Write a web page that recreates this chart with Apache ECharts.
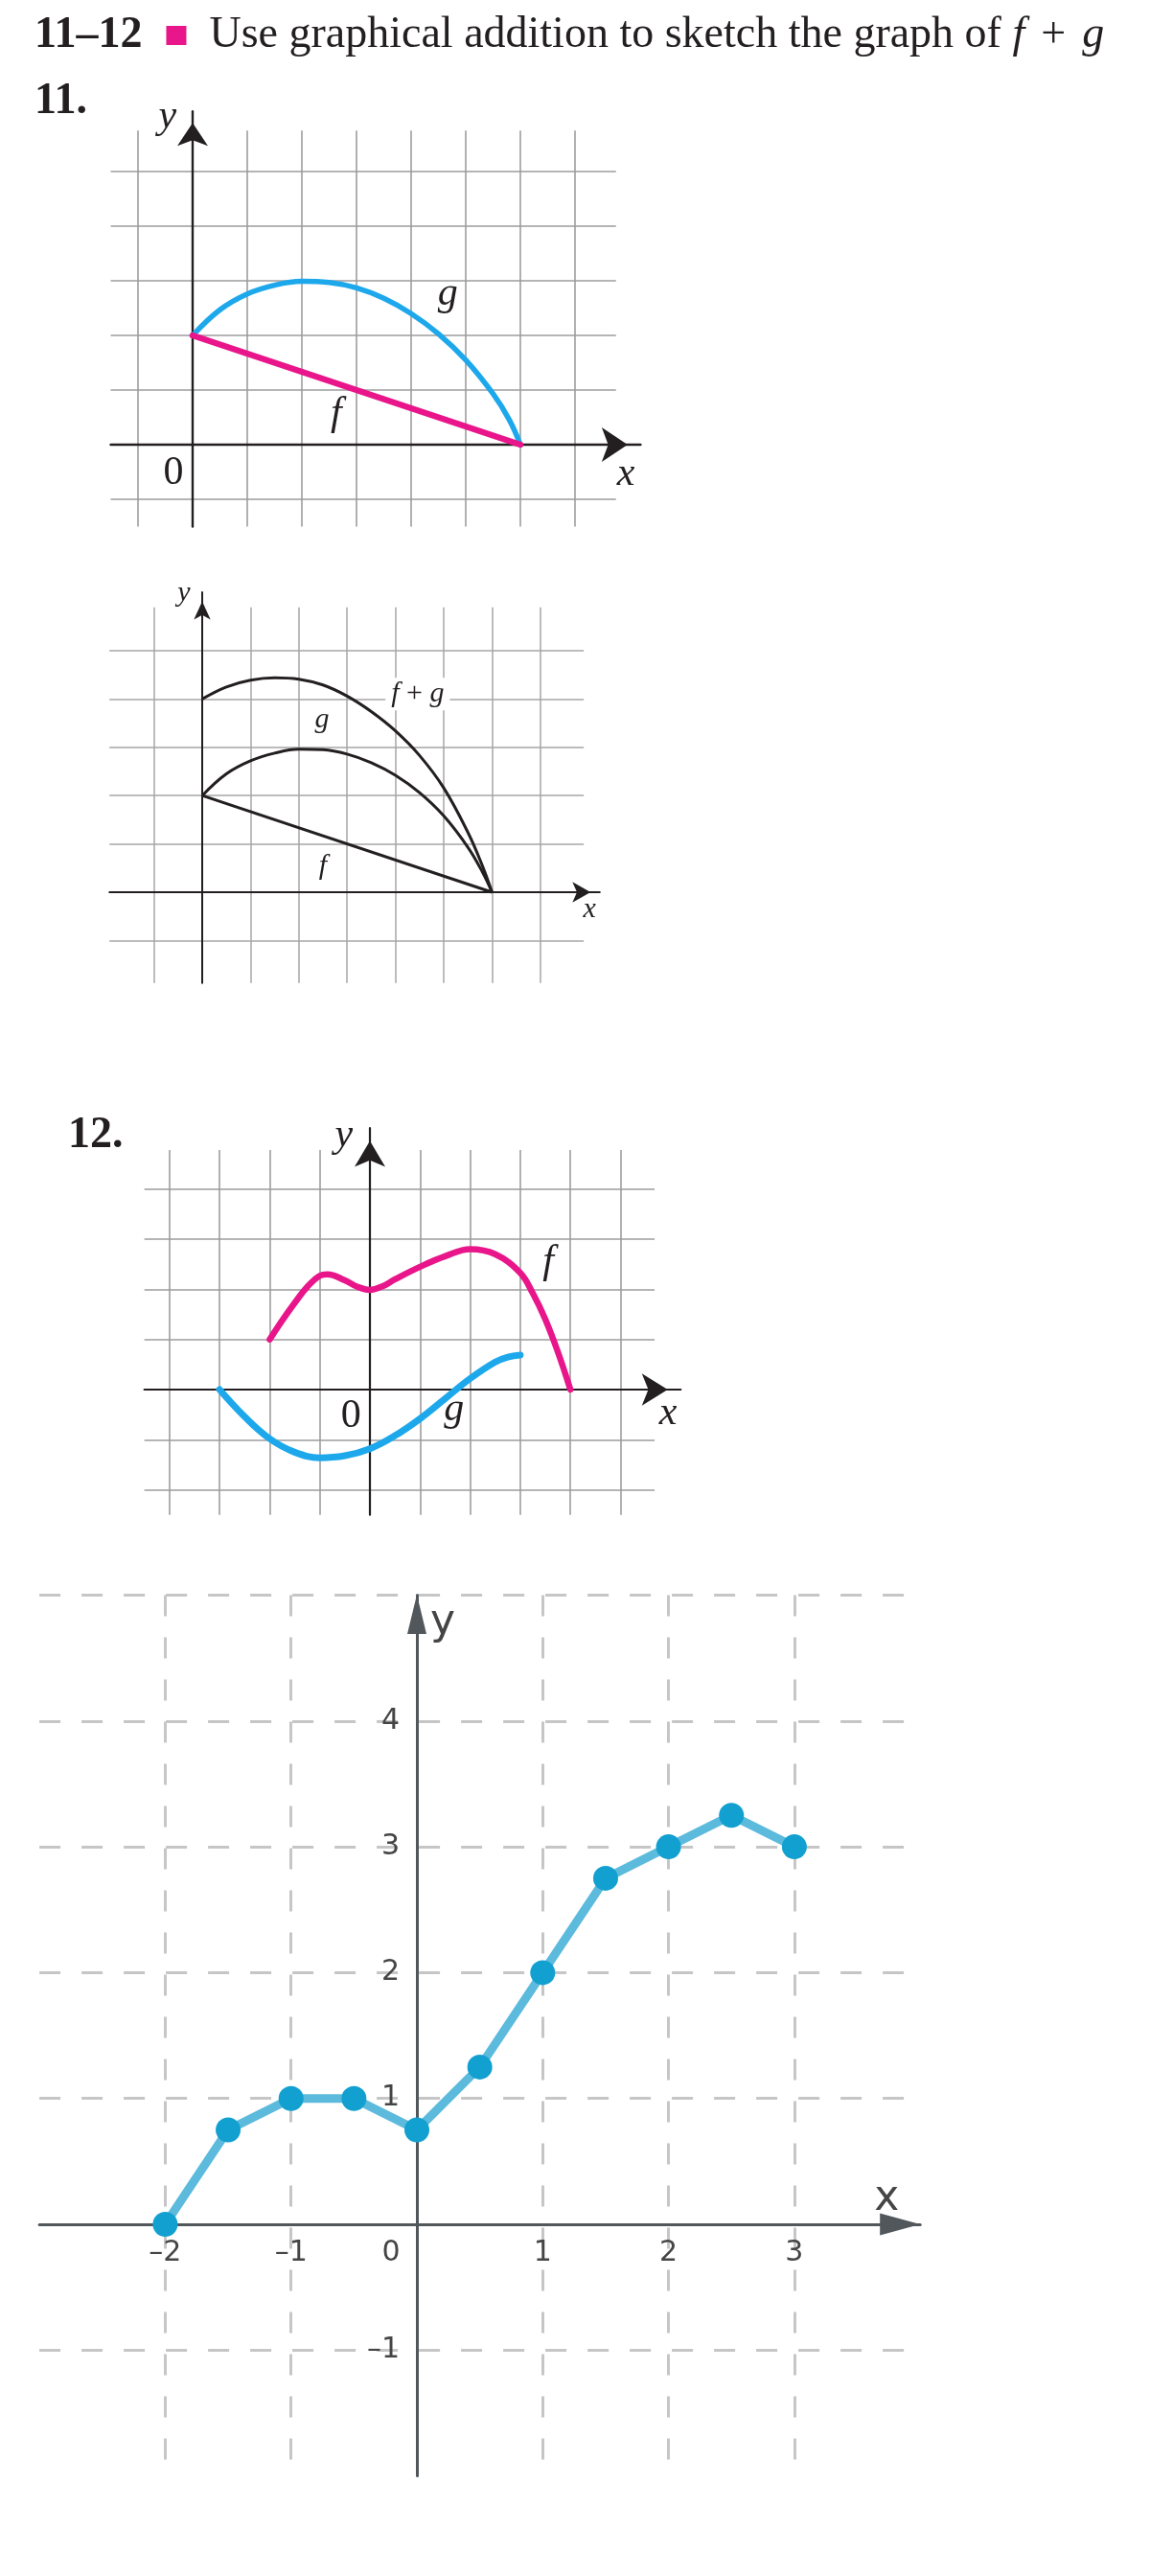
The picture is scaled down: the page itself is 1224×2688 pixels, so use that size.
<!DOCTYPE html>
<html lang="en">
<head>
<meta charset="UTF-8">
<title>Graphical addition f + g</title>
<style>
  * { margin: 0; padding: 0; }
  body { background: #fff; }
</style>
<script src="https://cdn.jsdelivr.net/npm/echarts@6/dist/echarts.min.js"></script>
</head>
<body>
<div id="main" style="width: 1224px; height: 2688px;"></div>
<script>
  const chart = echarts.init(document.getElementById('main'))

  // 11. given f (straight) and g (arch)
  const f11X = [0, 6]
  const f11Y = [2, 0]
  const g11X = [0, 0.5, 1, 1.5, 2, 2.5, 3, 3.5, 4, 4.5, 5, 5.5, 5.8, 6]
  const g11Y = [2, 2.47, 2.76, 2.92, 2.99, 2.97, 2.87, 2.68, 2.4, 2.03, 1.55, 0.93, 0.45, 0]

  // 11. worked answer (black)
  const ans11X = [0, 0.5, 1, 1.5, 2, 2.5, 3, 3.5, 4, 4.5, 5, 5.5, 5.8, 6]
  const ansG11Y = [2, 2.45, 2.72, 2.88, 2.96, 2.95, 2.86, 2.68, 2.42, 2.06, 1.58, 0.93, 0.42, 0]
  const ansSum11Y = [4, 4.25, 4.39, 4.44, 4.41, 4.29, 4.06, 3.74, 3.34, 2.83, 2.16, 1.24, 0.55, 0]

  // 12. given f and g
  const f12X = [-2, -1.75, -1.5, -1.25, -1, -0.85, -0.5, -0.25, 0, 0.25, 0.5, 1, 1.5, 2, 2.5, 3, 3.25, 3.5, 3.75, 4]
  const f12Y = [1, 1.38, 1.73, 2.05, 2.27, 2.3, 2.18, 2.05, 1.99, 2.06, 2.2, 2.45, 2.66, 2.8, 2.7, 2.33, 1.92, 1.4, 0.75, 0]
  const g12X = [-3, -2.5, -2, -1.5, -1, -0.5, 0, 0.5, 1, 1.5, 2, 2.5, 2.75, 3]
  const g12Y = [0, -0.54, -0.98, -1.25, -1.36, -1.32, -1.18, -0.92, -0.58, -0.18, 0.22, 0.55, 0.65, 0.69]

  // 12. answer f + g
  const sumX = [-2, -1.5, -1, -0.5, 0, 0.5, 1, 1.5, 2, 2.5, 3]
  const sumY = [0, 0.75, 1, 1, 0.75, 1.25, 2, 2.75, 3, 3.25, 3]

  // grid paper lines (axis lines at 0 are drawn by the axes)
  const cols11 = [-1, 1, 2, 3, 4, 5, 6, 7]
  const rows11 = [-1, 1, 2, 3, 4, 5]
  const cols12 = [-4, -3, -2, -1, 1, 2, 3, 4, 5]
  const rows12 = [-2, -1, 1, 2, 3, 4]

  // text labels: [text, x, y]
  const labels11 = [['g', 4.67, 2.76], ['f', 2.63, 0.56], ['0', -0.35, -0.53], ['y', -0.46, 6.0], ['x', 7.93, -0.55]]
  const labelsAns11 = [['f + g', 4.46, 4.1], ['g', 2.48, 3.56], ['f', 2.5, 0.54], ['y', -0.38, 6.18], ['x', 8.02, -0.36]]
  const labels12 = [['f', 3.56, 2.54], ['g', 1.68, -0.4], ['0', -0.38, -0.54], ['y', -0.52, 5.06], ['x', 5.95, -0.48]]

  const zip = (xs, ys) => xs.map((x, i) => [x, ys[i]])

  const INK = '#231f20'
  const PINK = '#e8168a'
  const CYAN = '#1ea8ec'
  const SERIF = 'Liberation Serif'
  const SANS = 'DejaVu Sans'

  // layout of each panel: origin in px, px per unit, axis extents, grid line spans
  const P = [
    { ox: 201, oy: 464, u: 57, x: [-1.5, 8.2], y: [-1.5, 6.1], hs: [-1.5, 7.75], vs: [-1.5, 5.75] },
    { ox: 211, oy: 931, u: 50.4, x: [-1.92, 8.23], y: [-1.88, 6.21], hs: [-1.92, 7.9], vs: [-1.88, 5.9] },
    { ox: 386, oy: 1450, u: 52.3, x: [-4.5, 6.2], y: [-2.5, 5.22], hs: [-4.5, 5.68], vs: [-2.5, 4.78] },
    { ox: 435, oy: 2321, u: 131.3, x: [-3, 4], y: [-2, 5] }
  ]

  const rect = p => ({
    left: p.ox + p.x[0] * p.u,
    top: p.oy - p.y[1] * p.u,
    width: (p.x[1] - p.x[0]) * p.u,
    height: (p.y[1] - p.y[0]) * p.u,
    outerBoundsMode: 'none'
  })

  function paperLines(p, cols, rows, color, width) {
    const data = []
    cols.forEach(c => data.push([{ coord: [c, p.vs[0]] }, { coord: [c, p.vs[1]] }]))
    rows.forEach(r => data.push([{ coord: [p.hs[0], r] }, { coord: [p.hs[1], r] }]))
    return {
      silent: true, z: 1, animation: false,
      symbol: ['none', 'none'],
      label: { show: false },
      lineStyle: { color, width, type: 'solid' },
      emphasis: { disabled: true },
      data
    }
  }

  function textMarks(list, size) {
    return {
      silent: true, animation: false,
      symbol: 'circle', symbolSize: 1,
      itemStyle: { color: 'rgba(0,0,0,0)' },
      label: {
        show: true, position: 'inside', formatter: '{b}',
        fontFamily: SERIF, fontStyle: 'italic', fontWeight: 'normal', fontSize: size, color: INK
      },
      data: list.map(([t, x, y]) => {
        const item = { name: t, coord: [x, y] }
        if (t === '0') item.label = { fontStyle: 'normal' }
        if (t === 'f + g') {
          item.label = {
            formatter: '{i|f} + {i|g}', fontStyle: 'normal',
            backgroundColor: '#fff', padding: [2, 6],
            rich: { i: { fontFamily: SERIF, fontStyle: 'italic', fontSize: size, color: INK } }
          }
        }
        return item
      })
    }
  }

  function bookAxes(i, p, ax, ay, width) {
    const base = {
      type: 'value', gridIndex: i, z: 2,
      axisTick: { show: false }, axisLabel: { show: false }, splitLine: { show: false }
    }
    return [
      Object.assign({}, base, {
        min: p.x[0], max: p.x[1],
        axisLine: { show: true, onZero: true, symbol: ['none', 'arrow'], symbolSize: ax, symbolOffset: [0, -ax[1] / 2], lineStyle: { color: INK, width } }
      }),
      Object.assign({}, base, {
        min: p.y[0], max: p.y[1],
        axisLine: { show: true, onZero: true, symbol: ['none', 'arrow'], symbolSize: ay, symbolOffset: [0, -ay[1] / 2], lineStyle: { color: INK, width } }
      })
    ]
  }

  const a11 = bookAxes(0, P[0], [27, 27], [24, 24], 2.4)
  const b11 = bookAxes(1, P[1], [16, 19], [13, 19], 2)
  const a12 = bookAxes(2, P[2], [25, 27], [24, 27], 2.2)

  // the answer graph carries its labels on the axes, so the axes are shifted in to x = 0 / y = 0
  const D = P[3]
  const shiftX = D.y[0] * D.u
  const shiftY = D.x[0] * D.u

  const minus = v => (v < 0 ? '–' + Math.abs(v) : String(v))
  const tickFont = { fontFamily: SANS, fontSize: 30, fontWeight: 'normal', color: '#454545' }
  const plain = { fontFamily: SERIF, fontWeight: 'normal', fontSize: 46, lineHeight: 56, color: INK }

  const option = {
    animation: false,
    backgroundColor: '#fff',
    title: [
      {
        left: 36, top: 9, padding: 0,
        text: '{b|11–12}{sq| }{u|Use graphical addition to sketch the graph of }{i|f}{t|+}{i|g}',
        textStyle: {
          fontWeight: 'normal',
          rich: {
            b: { fontFamily: SERIF, fontWeight: 'bold', fontSize: 46, lineHeight: 56, color: INK, padding: [0, 25, 0, 0] },
            sq: { width: 21, height: 20, backgroundColor: PINK },
            u: Object.assign({}, plain, { padding: [0, 0, 0, 24] }),
            t: Object.assign({}, plain, { padding: [0, 17, 0, 17] }),
            i: Object.assign({}, plain, { fontStyle: 'italic' })
          }
        }
      },
      { left: 36, top: 78, padding: 0, text: '11.', textStyle: { fontFamily: SERIF, fontWeight: 'bold', fontSize: 46, lineHeight: 56, color: INK } },
      { left: 71, top: 1157, padding: 0, text: '12.', textStyle: { fontFamily: SERIF, fontWeight: 'bold', fontSize: 46, lineHeight: 56, color: INK } }
    ],
    grid: P.map(rect),
    xAxis: [
      a11[0], b11[0], a12[0],
      {
        type: 'value', gridIndex: 3, min: D.x[0], max: D.x[1], interval: 1,
        position: 'bottom', offset: shiftX,
        axisLine: { onZero: false, symbol: ['none', 'triangle'], symbolSize: [23, 42], symbolOffset: [0, -21], lineStyle: { color: '#52575c', width: 3 } },
        axisTick: { show: false },
        axisLabel: Object.assign({}, tickFont, {
          margin: 15, lineHeight: 30, showMinLabel: false, showMaxLabel: false,
          formatter: v => (v === 0 ? '{z|0}' : minus(v)),
          rich: { z: Object.assign({}, tickFont, { padding: [0, 54, 0, 0] }) }
        }),
        splitLine: { show: true, showMinLine: false, showMaxLine: false, lineStyle: { color: '#c6c6c6', width: 3, type: [22, 22] } },
        name: 'x', nameLocation: 'end', nameGap: -35, nameMoveOverlap: false,
        nameTextStyle: { fontFamily: SANS, fontSize: 44, fontWeight: 'normal', lineHeight: 44, color: '#454545', align: 'center', verticalAlign: 'bottom', padding: [0, 0, 4, 0] }
      }
    ],
    yAxis: [
      a11[1], b11[1], a12[1],
      {
        type: 'value', gridIndex: 3, min: D.y[0], max: D.y[1], interval: 1,
        position: 'left', offset: shiftY,
        axisLine: { onZero: false, symbol: ['none', 'triangle'], symbolSize: [20, 41], symbolOffset: [0, -20], lineStyle: { color: '#52575c', width: 3 } },
        axisTick: { show: false },
        axisLabel: Object.assign({}, tickFont, {
          margin: 18, showMinLabel: false, showMaxLabel: false,
          formatter: v => (v === 0 ? '' : minus(v))
        }),
        splitLine: { show: true, showMinLine: false, showMaxLine: true, lineStyle: { color: '#c6c6c6', width: 3, type: [22, 22] } },
        name: 'y', nameLocation: 'end', nameGap: -29, nameMoveOverlap: false,
        nameTextStyle: { fontFamily: SANS, fontSize: 44, fontWeight: 'normal', color: '#454545', align: 'left', verticalAlign: 'middle', padding: [0, 0, 0, 14] }
      }
    ],
    series: [
      // 11 given
      {
        type: 'line', xAxisIndex: 0, yAxisIndex: 0, z: 3, data: zip(g11X, g11Y),
        smooth: 0.4, symbol: 'none', lineStyle: { color: CYAN, width: 5.5, cap: 'round' },
        markLine: paperLines(P[0], cols11, rows11, '#9d9d9d', 1.6),
        markPoint: textMarks(labels11, 42)
      },
      {
        type: 'line', xAxisIndex: 0, yAxisIndex: 0, z: 3, data: zip(f11X, f11Y),
        symbol: 'none', lineStyle: { color: PINK, width: 6.5, cap: 'round' }
      },
      // 11 answer
      {
        type: 'line', xAxisIndex: 1, yAxisIndex: 1, z: 3, data: zip(f11X, f11Y),
        symbol: 'none', lineStyle: { color: INK, width: 3 },
        markLine: paperLines(P[1], cols11, rows11, '#a6a6a6', 1.5),
        markPoint: textMarks(labelsAns11, 30)
      },
      {
        type: 'line', xAxisIndex: 1, yAxisIndex: 1, z: 3, data: zip(ans11X, ansG11Y),
        smooth: 0.4, symbol: 'none', lineStyle: { color: INK, width: 3 }
      },
      {
        type: 'line', xAxisIndex: 1, yAxisIndex: 1, z: 3, data: zip(ans11X, ansSum11Y),
        smooth: 0.4, symbol: 'none', lineStyle: { color: INK, width: 3 }
      },
      // 12 given
      {
        type: 'line', xAxisIndex: 2, yAxisIndex: 2, z: 3, data: zip(g12X, g12Y),
        smooth: 0.4, symbol: 'none', lineStyle: { color: CYAN, width: 7, cap: 'round' },
        markLine: paperLines(P[2], cols12, rows12, '#9d9d9d', 1.6),
        markPoint: textMarks(labels12, 42)
      },
      {
        type: 'line', xAxisIndex: 2, yAxisIndex: 2, z: 3, data: zip(f12X, f12Y),
        smooth: 0.4, symbol: 'none', lineStyle: { color: PINK, width: 6.5, cap: 'round' }
      },
      // 12 answer
      {
        type: 'line', xAxisIndex: 3, yAxisIndex: 3, z: 3, data: zip(sumX, sumY),
        symbol: 'circle', symbolSize: 26, showSymbol: true,
        itemStyle: { color: '#12a0d0' },
        lineStyle: { color: '#5cbadc', width: 9 }
      }
    ]
  }

  chart.setOption(option)
</script>
</body>
</html>
